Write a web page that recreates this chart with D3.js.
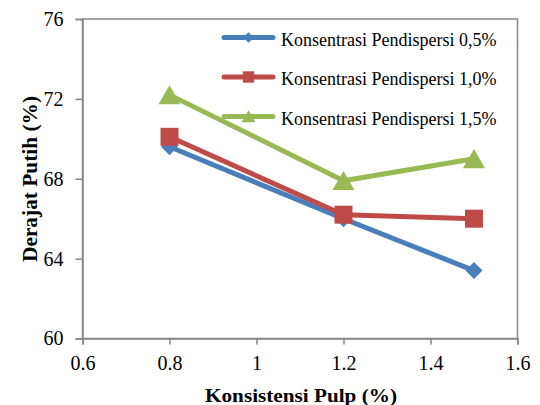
<!DOCTYPE html>
<html><head><meta charset="utf-8">
<script src="https://cdn.jsdelivr.net/npm/d3@7/dist/d3.min.js"></script>
<style>body{margin:0;background:#fff}svg{display:block}svg text{font-family:"Liberation Serif",serif}</style>
</head><body>
<script>
const xValues = [0.8, 1.2, 1.5];
const series05 = [69.6, 66.0, 63.4];
const series10 = [70.1, 66.2, 66.0];
const series15 = [72.2, 67.9, 69.0];
const seriesNames = ["Konsentrasi Pendispersi 0,5%", "Konsentrasi Pendispersi 1,0%", "Konsentrasi Pendispersi 1,5%"];
const xTicks = [0.6, 0.8, 1, 1.2, 1.4, 1.6];
const yTicks = [60, 64, 68, 72, 76];

const W = 540, H = 405;
const svg = d3.select("body").append("svg").attr("width", W).attr("height", H);
const fam = "Liberation Serif";
const x = d3.scaleLinear().domain([0.6, 1.6]).range([82.5, 517.5]);
const y = d3.scaleLinear().domain([60, 76]).range([338.5, 19]);
const axisColor = "#868686";

svg.append("rect").attr("x", x(0.6)).attr("y", y(76)).attr("width", x(1.6) - x(0.6)).attr("height", y(60) - y(76))
  .attr("fill", "none").attr("stroke", axisColor).attr("stroke-width", 1.5);

const xAxis = svg.append("g").attr("transform", `translate(0,${y(60)})`)
  .call(d3.axisBottom(x).tickValues(xTicks).tickFormat(d => String(d)).tickSize(6).tickPadding(11));
const yAxis = svg.append("g").attr("transform", `translate(${x(0.6)},0)`)
  .call(d3.axisLeft(y).tickValues(yTicks).tickSize(7).tickPadding(12));
[xAxis, yAxis].forEach(g => {
  g.attr("font-family", fam).attr("font-size", 20);
  g.select(".domain").attr("stroke", axisColor).attr("stroke-width", 1.5);
  g.selectAll(".tick line").attr("stroke", axisColor).attr("stroke-width", 1.5);
  g.selectAll("text").style("font-family", fam).style("font-size", "20px").attr("fill", "#000");
});

svg.append("text").attr("x", 301).attr("y", 402).attr("text-anchor", "middle")
  .attr("textLength", 192).attr("lengthAdjust", "spacingAndGlyphs")
  .style("font-family", fam).style("font-size", "19px").style("font-weight", "bold").text("Konsistensi Pulp (%)");
svg.append("text").attr("transform", `translate(37,179) rotate(-90)`).attr("text-anchor", "middle")
  .attr("textLength", 166).attr("lengthAdjust", "spacingAndGlyphs")
  .style("font-family", fam).style("font-size", "20px").style("font-weight", "bold").text("Derajat Putih (%)");

const colors = ["#4a7ebb", "#be4b48", "#98b954"];
const all = [series05, series10, series15];
const markerSizes = [144, 324, 210];
const markerRot = [45, 0, 0];
const markerShift = [0, 0, 3];
const shapes = [d3.symbolSquare, d3.symbolSquare, d3.symbolTriangle];
const line = d3.line().x((d, i) => x(xValues[i])).y(d => y(d));

all.forEach((s, k) => {
  svg.append("path").datum(s).attr("d", line).attr("fill", "none").attr("stroke", colors[k])
    .attr("stroke-width", 5).attr("stroke-linejoin", "round").attr("stroke-linecap", "round");
});
all.forEach((s, k) => {
  svg.selectAll(null).data(s).enter().append("path")
    .attr("d", d3.symbol().type(shapes[k]).size(markerSizes[k]))
    .attr("transform", (d, i) => `translate(${x(xValues[i])},${y(d) + markerShift[k]}) rotate(${markerRot[k]})`)
    .attr("fill", colors[k]);
});

const legY = [37.5, 77, 116.5];
seriesNames.forEach((n, k) => {
  const g = svg.append("g");
  g.append("line").attr("x1", 224).attr("x2", 273).attr("y1", legY[k]).attr("y2", legY[k])
    .attr("stroke", colors[k]).attr("stroke-width", 5).attr("stroke-linecap", "round");
  g.append("path").attr("d", d3.symbol().type(shapes[k]).size(markerSizes[k] * 0.4))
    .attr("transform", `translate(248.5,${legY[k] + markerShift[k] * 0.6}) rotate(${markerRot[k]})`).attr("fill", colors[k]);
  g.append("text").attr("x", 281).attr("y", legY[k] + 8).style("font-family", fam).style("font-size", "18px")
    .attr("fill", "#000").text(n);
});
</script>
</body></html>
